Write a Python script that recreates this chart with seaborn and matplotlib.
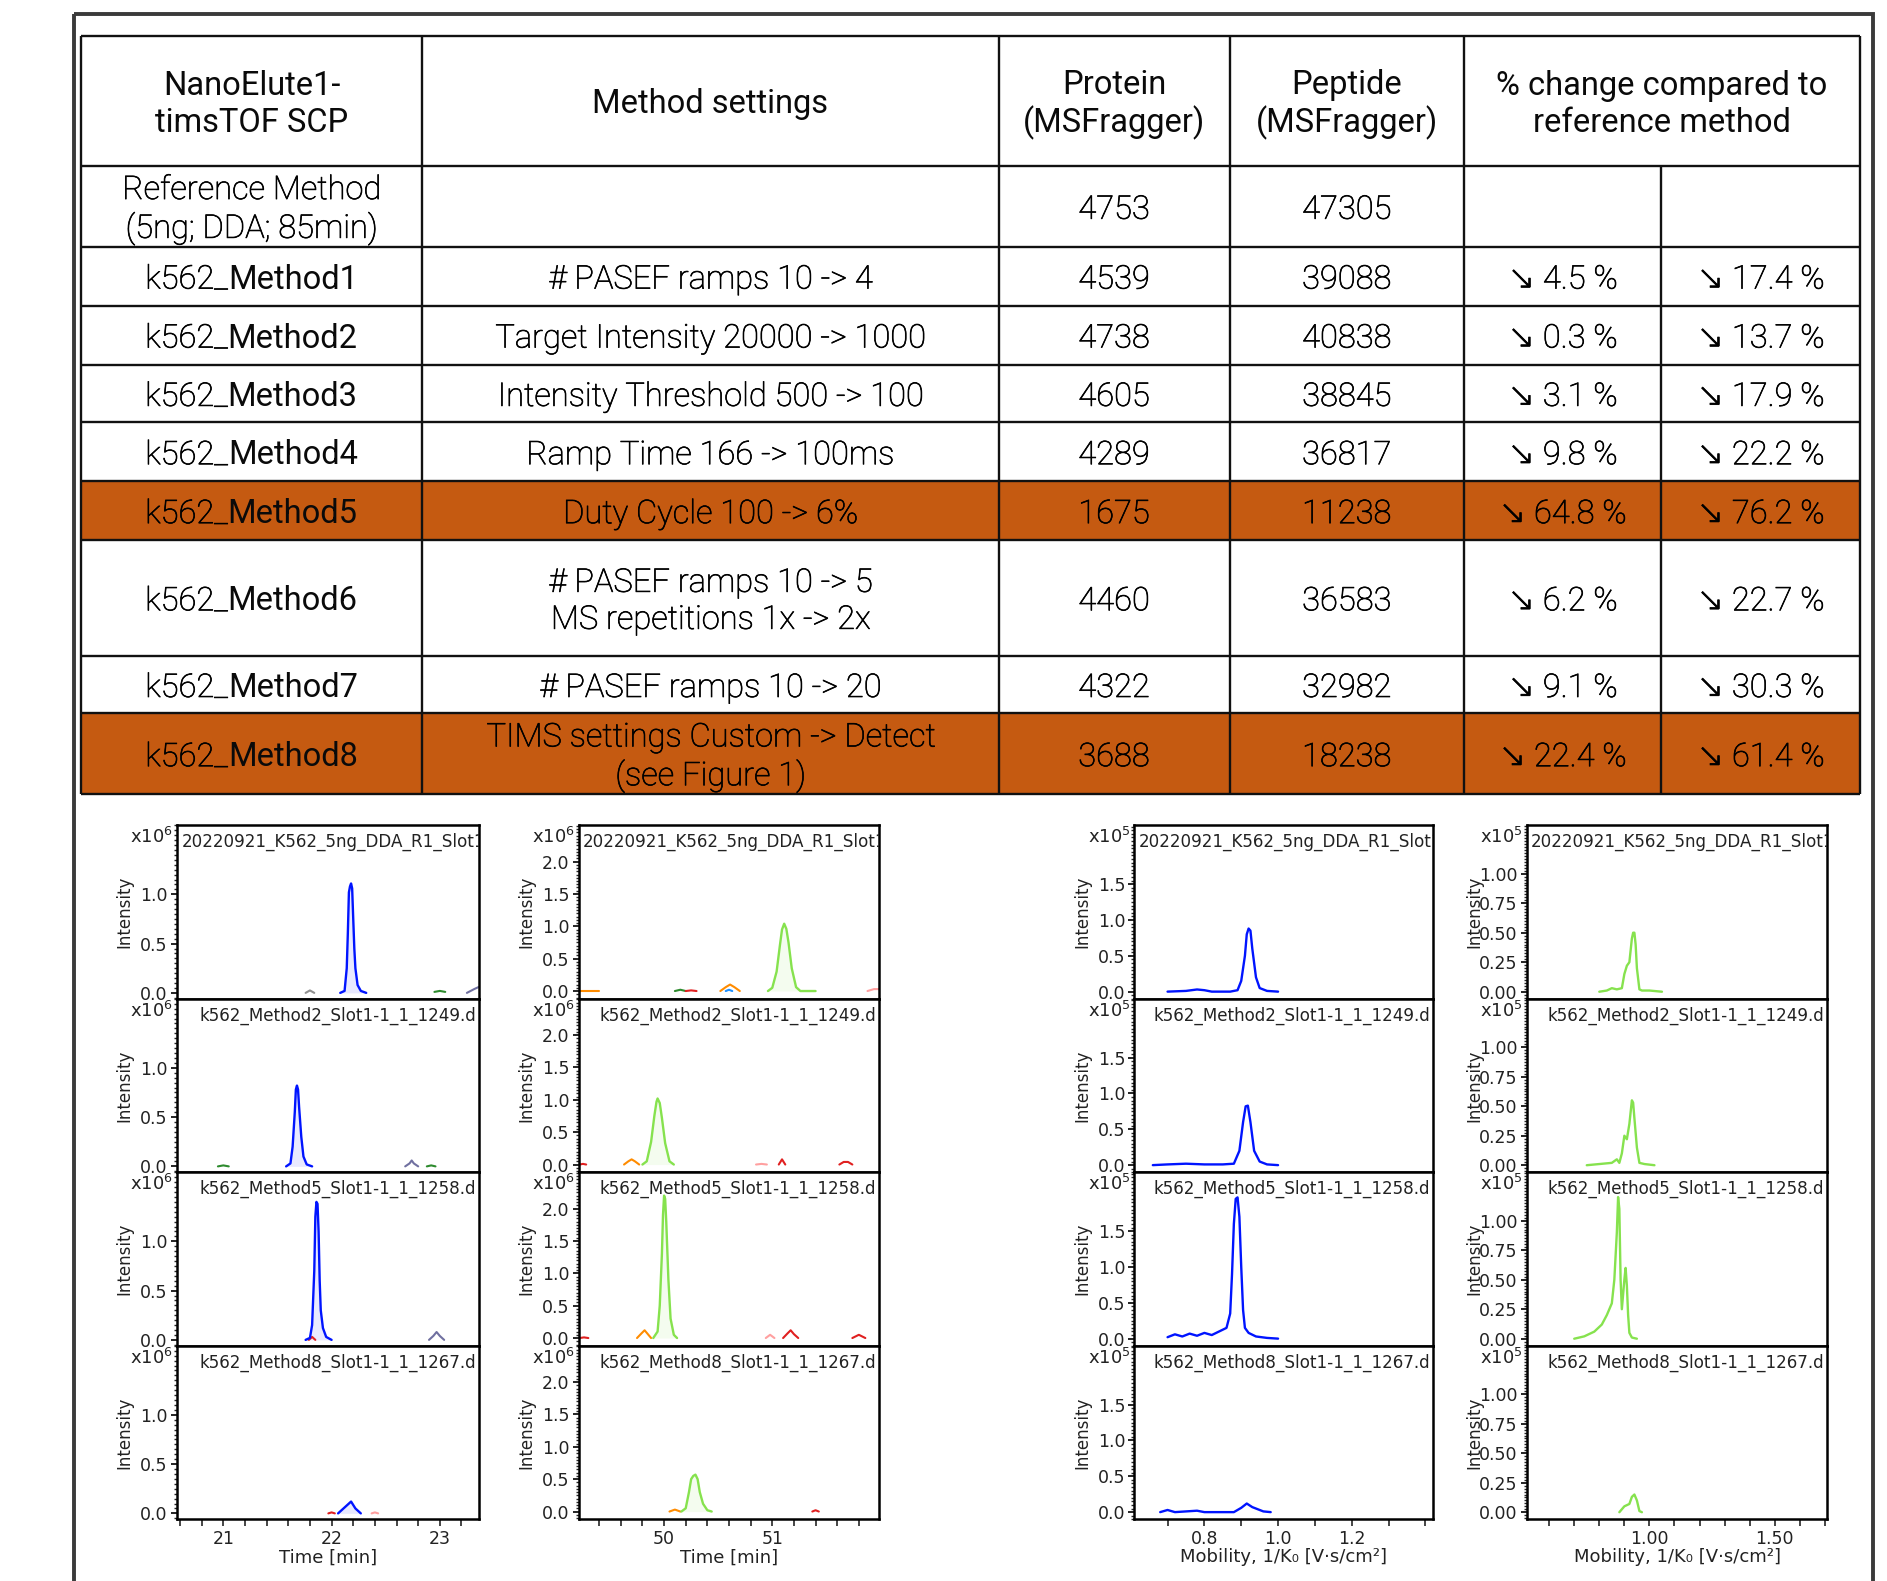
import matplotlib
matplotlib.use("Agg")
import matplotlib.pyplot as plt
import matplotlib.patheffects as pe
from matplotlib.patches import Rectangle
from matplotlib.ticker import FixedLocator, MultipleLocator, FormatStrFormatter
import seaborn as sns

# --- Table data ---
HEADERS = ["NanoElute1-\ntimsTOF SCP", "Method settings", "Protein\n(MSFragger)",
           "Peptide\n(MSFragger)", "% change compared to\nreference method"]
METHOD_NAMES = ["Reference Method\n(5ng; DDA; 85min)", "k562_Method1", "k562_Method2",
                "k562_Method3", "k562_Method4", "k562_Method5", "k562_Method6",
                "k562_Method7", "k562_Method8"]
METHOD_SETTINGS = ["", "# PASEF ramps 10 -> 4", "Target Intensity 20000 -> 1000",
                   "Intensity Threshold 500 -> 100", "Ramp Time 166 -> 100ms",
                   "Duty Cycle 100 -> 6%", "# PASEF ramps 10 -> 5\nMS repetitions 1x -> 2x",
                   "# PASEF ramps 10 -> 20", "TIMS settings Custom -> Detect\n(see Figure 1)"]
PROTEINS = [4753, 4539, 4738, 4605, 4289, 1675, 4460, 4322, 3688]
PEPTIDES = [47305, 39088, 40838, 38845, 36817, 11238, 36583, 32982, 18238]
PROTEIN_DROP = [None, 4.5, 0.3, 3.1, 9.8, 64.8, 6.2, 9.1, 22.4]
PEPTIDE_DROP = [None, 17.4, 13.7, 17.9, 22.2, 76.2, 22.7, 30.3, 61.4]
HIGHLIGHT = ["k562_Method5", "k562_Method8"]

# --- Chromatogram / mobilogram data ---
RUN_LABELS = ["20220921_K562_5ng_DDA_R1_Slot1", "k562_Method2_Slot1-1_1_1249.d",
              "k562_Method5_Slot1-1_1_1258.d", "k562_Method8_Slot1-1_1_1267.d"]

# retention time, blue feature (x10^6)
RT_BLUE_X = [
    [22.08, 22.12, 22.14, 22.15, 22.16, 22.17, 22.18, 22.19, 22.20, 22.21, 22.22, 22.24, 22.27, 22.32],
    [21.58, 21.62, 21.64, 21.66, 21.67, 21.68, 21.69, 21.70, 21.72, 21.74, 21.77, 21.82],
    [21.76, 21.80, 21.82, 21.84, 21.85, 21.86, 21.87, 21.88, 21.89, 21.90, 21.92, 21.95, 22.00],
    [22.06, 22.12, 22.18, 22.22, 22.27],
]
RT_BLUE_Y = [
    [0.0, 0.02, 0.25, 0.60, 1.02, 1.08, 1.11, 1.06, 0.75, 0.45, 0.25, 0.08, 0.02, 0.0],
    [0.0, 0.03, 0.20, 0.55, 0.78, 0.82, 0.78, 0.60, 0.30, 0.10, 0.02, 0.0],
    [0.0, 0.02, 0.15, 0.70, 1.25, 1.40, 1.38, 1.10, 0.60, 0.30, 0.12, 0.03, 0.0],
    [0.0, 0.06, 0.12, 0.05, 0.0],
]
# retention time, green feature (x10^6)
RT_GREEN_X = [
    [50.96, 51.00, 51.04, 51.07, 51.09, 51.11, 51.13, 51.15, 51.18, 51.22, 51.26, 51.40],
    [49.80, 49.84, 49.88, 49.91, 49.93, 49.94, 49.96, 49.98, 50.01, 50.05, 50.09],
    [49.90, 49.94, 49.96, 49.98, 49.99, 50.00, 50.01, 50.02, 50.04, 50.06, 50.09, 50.12],
    [50.16, 50.20, 50.23, 50.25, 50.27, 50.29, 50.31, 50.33, 50.36, 50.40, 50.44],
]
RT_GREEN_Y = [
    [0.0, 0.05, 0.30, 0.70, 0.95, 1.04, 0.96, 0.75, 0.35, 0.06, 0.0, 0.0],
    [0.0, 0.05, 0.35, 0.75, 0.97, 1.02, 0.95, 0.72, 0.33, 0.05, 0.0],
    [0.0, 0.10, 0.50, 1.30, 1.90, 2.20, 2.15, 1.80, 0.90, 0.30, 0.05, 0.0],
    [0.0, 0.05, 0.30, 0.50, 0.55, 0.57, 0.50, 0.30, 0.12, 0.02, 0.0],
]
# mobility, blue feature (x10^5)
MOB_BLUE_X = [
    [0.70, 0.75, 0.78, 0.80, 0.82, 0.87, 0.89, 0.90, 0.91, 0.915, 0.92, 0.925, 0.93, 0.94, 0.95, 0.97, 1.00],
    [0.66, 0.70, 0.75, 0.80, 0.85, 0.88, 0.895, 0.905, 0.912, 0.918, 0.925, 0.935, 0.95, 0.97, 1.00],
    [0.70, 0.72, 0.74, 0.76, 0.78, 0.80, 0.82, 0.84, 0.86, 0.87, 0.875, 0.88, 0.885, 0.89, 0.895,
     0.90, 0.905, 0.91, 0.92, 0.94, 0.97, 1.00],
    [0.68, 0.70, 0.72, 0.75, 0.78, 0.80, 0.88, 0.90, 0.915, 0.93, 0.96, 0.98],
]
MOB_BLUE_Y = [
    [0.0, 0.01, 0.03, 0.02, 0.0, 0.0, 0.02, 0.15, 0.50, 0.80, 0.88, 0.85, 0.60, 0.20, 0.05, 0.01, 0.0],
    [0.0, 0.01, 0.02, 0.01, 0.01, 0.02, 0.20, 0.60, 0.82, 0.83, 0.60, 0.20, 0.05, 0.01, 0.0],
    [0.02, 0.06, 0.03, 0.07, 0.04, 0.08, 0.05, 0.10, 0.15, 0.35, 0.90, 1.60, 1.95, 1.97, 1.70,
     1.00, 0.40, 0.15, 0.08, 0.03, 0.01, 0.0],
    [0.0, 0.03, 0.0, 0.01, 0.02, 0.0, 0.0, 0.06, 0.12, 0.07, 0.01, 0.0],
]
# mobility, green feature (x10^5)
MOB_GREEN_X = [
    [0.80, 0.83, 0.85, 0.87, 0.89, 0.90, 0.91, 0.92, 0.93, 0.935, 0.94, 0.945, 0.95, 0.96, 0.97, 1.00, 1.05],
    [0.75, 0.80, 0.85, 0.87, 0.88, 0.89, 0.90, 0.91, 0.92, 0.93, 0.935, 0.94, 0.95, 0.96, 0.98, 1.02],
    [0.70, 0.74, 0.78, 0.81, 0.83, 0.85, 0.86, 0.87, 0.875, 0.88, 0.885, 0.89, 0.90, 0.905, 0.91,
     0.915, 0.92, 0.93, 0.95],
    [0.88, 0.90, 0.92, 0.93, 0.94, 0.95, 0.96, 0.97],
]
MOB_GREEN_Y = [
    [0.0, 0.01, 0.03, 0.02, 0.03, 0.15, 0.22, 0.25, 0.45, 0.50, 0.50, 0.40, 0.20, 0.02, 0.01, 0.01, 0.0],
    [0.0, 0.01, 0.02, 0.05, 0.02, 0.10, 0.25, 0.22, 0.35, 0.55, 0.53, 0.40, 0.15, 0.02, 0.01, 0.0],
    [0.0, 0.02, 0.06, 0.12, 0.20, 0.30, 0.50, 0.90, 1.20, 1.10, 0.50, 0.25, 0.50, 0.60, 0.45,
     0.20, 0.05, 0.01, 0.0],
    [0.0, 0.05, 0.07, 0.13, 0.15, 0.10, 0.01, 0.0],
]
# small co-eluting traces: (panel column, panel row, colour, x, y)
MINOR_TRACES = [
    (0, 0, "#909090", [21.76, 21.80, 21.84], [0.0, 0.025, 0.0]),
    (0, 0, "#2E8B2E", [22.95, 23.00, 23.05], [0.01, 0.02, 0.01]),
    (0, 0, "#7070A0", [23.25, 23.32, 23.36], [0.0, 0.04, 0.06]),
    (0, 1, "#2E8B2E", [20.95, 21.00, 21.05], [0.0, 0.01, 0.0]),
    (0, 1, "#7070A0", [22.68, 22.72, 22.74, 22.76, 22.80], [0.0, 0.03, 0.06, 0.03, 0.0]),
    (0, 1, "#2E8B2E", [22.88, 22.92, 22.96], [0.0, 0.01, 0.0]),
    (0, 2, "#E02020", [21.79, 21.82, 21.85], [0.0, 0.03, 0.0]),
    (0, 2, "#7070A0", [22.90, 22.94, 22.97, 23.00, 23.04], [0.0, 0.04, 0.08, 0.04, 0.0]),
    (0, 3, "#E02020", [21.97, 22.00, 22.03], [0.0, 0.01, 0.0]),
    (0, 3, "#FFA0A0", [22.37, 22.40, 22.43], [0.0, 0.01, 0.0]),
    (1, 0, "#FF8C00", [49.21, 49.30, 49.40], [0.0, 0.0, 0.0]),
    (1, 0, "#2E8B2E", [50.10, 50.15, 50.20], [0.0, 0.02, 0.0]),
    (1, 0, "#E02020", [50.20, 50.25, 50.30], [0.0, 0.01, 0.0]),
    (1, 0, "#FF8C00", [50.52, 50.57, 50.61, 50.65, 50.70], [0.0, 0.06, 0.10, 0.06, 0.0]),
    (1, 0, "#1E90FF", [50.57, 50.60, 50.63], [0.0, 0.02, 0.0]),
    (1, 0, "#FFA0A0", [51.88, 51.94, 51.99], [0.0, 0.03, 0.03]),
    (1, 1, "#E02020", [49.22, 49.25, 49.28], [0.0, 0.01, 0.0]),
    (1, 1, "#FF8C00", [49.63, 49.67, 49.70, 49.73, 49.77], [0.0, 0.05, 0.08, 0.05, 0.0]),
    (1, 1, "#FFA0A0", [50.85, 50.90, 50.95], [0.0, 0.01, 0.0]),
    (1, 1, "#E02020", [51.06, 51.09, 51.12], [0.0, 0.08, 0.0]),
    (1, 1, "#E02020", [51.62, 51.66, 51.70, 51.74], [0.0, 0.04, 0.04, 0.0]),
    (1, 2, "#E02020", [49.22, 49.26, 49.30], [0.0, 0.01, 0.0]),
    (1, 2, "#FF8C00", [49.75, 49.79, 49.82, 49.85, 49.88], [0.0, 0.07, 0.12, 0.06, 0.0]),
    (1, 2, "#FFA0A0", [50.94, 50.98, 51.02], [0.0, 0.05, 0.0]),
    (1, 2, "#E02020", [51.10, 51.14, 51.17, 51.20, 51.24], [0.0, 0.07, 0.12, 0.06, 0.0]),
    (1, 2, "#E02020", [51.74, 51.80, 51.86], [0.0, 0.05, 0.0]),
    (1, 3, "#FF8C00", [50.05, 50.10, 50.15], [0.0, 0.03, 0.0]),
    (1, 3, "#E02020", [51.37, 51.40, 51.43], [0.0, 0.02, 0.0]),
]

# --- Layout (pixels of the 1887x1581 canvas) ---
W, H = 1887, 1581
COL_EDGES = [80.6, 422.3, 998.5, 1229.5, 1464.0, 1661.3, 1860.0]
ROW_EDGES = [36.0, 166.0, 246.6, 305.6, 364.5, 422.3, 481.2, 540.1, 655.6, 713.4, 794.0]
ROW_TOPS = [825.3, 998.8, 1172.3, 1345.8]
ROW_H = 173.5
TEXT_SHIFT = 3.5   # optical centring of table text

BLUE = "#0014FF"
GREEN = "#86E24E"
ORANGE = "#C55A11"
TXT = "#000000"
HDR = "#0a0a0a"
TFONT = ["Roboto", "DejaVu Sans"]
TSIZE = 23.5
PSIZE = 12.5
TITLE_SIZE = 12.1
# thickens the light weight a little, as in the reference
LIGHT_FX = [pe.withStroke(linewidth=0.5, foreground=TXT)]

PANEL_COLS = [
    dict(left=176.8, right=478.8, xs=RT_BLUE_X, ys=RT_BLUE_Y, color=BLUE, fill=True, exp=6,
         xlim=(20.57, 23.36), ylim=(-0.06, 1.70), yticks=[0, 0.5, 1.0], yminor=0.05, yfmt="%.1f",
         xticks=[21, 22, 23], xminor=0.2, xfmt="%d", xlabel="Time [min]"),
    dict(left=578.6, right=879.4, xs=RT_GREEN_X, ys=RT_GREEN_Y, color=GREEN, fill=True, exp=6,
         xlim=(49.21, 51.99), ylim=(-0.12, 2.56), yticks=[0, 0.5, 1.0, 1.5, 2.0], yminor=0.05,
         yfmt="%.1f", xticks=[50, 51], xminor=0.2, xfmt="%d", xlabel="Time [min]"),
    dict(left=1134.4, right=1432.8, xs=MOB_BLUE_X, ys=MOB_BLUE_Y, color=BLUE, fill=False, exp=5,
         xlim=(0.61, 1.42), ylim=(-0.10, 2.32), yticks=[0, 0.5, 1.0, 1.5], yminor=0.05, yfmt="%.1f",
         xticks=[0.8, 1.0, 1.2], xminor=0.1, xfmt="%.1f", xlabel="Mobility, 1/K\u2080 [V\u00b7s/cm\u00b2]"),
    dict(left=1526.6, right=1827.4, xs=MOB_GREEN_X, ys=MOB_GREEN_Y, color=GREEN, fill=False, exp=5,
         xlim=(0.51, 1.71), ylim=(-0.06, 1.41), yticks=[0, 0.25, 0.5, 0.75, 1.0], yminor=0.025,
         yfmt="%.2f", xticks=[1.0, 1.5], xminor=0.1, xfmt="%.2f",
         xlabel="Mobility, 1/K\u2080 [V\u00b7s/cm\u00b2]"),
]


def px_rect(x0, y0, x1, y1):
    return [x0 / W, 1 - y1 / H, (x1 - x0) / W, (y1 - y0) / H]


sns.set_style("ticks")
plt.rcParams["font.family"] = ["DejaVu Sans"]
plt.rcParams["mathtext.fontset"] = "dejavusans"
plt.rcParams["axes.linewidth"] = 1.8
plt.rcParams["axes.edgecolor"] = "black"

fig = plt.figure(figsize=(W / 100, H / 100), dpi=100)
fig.patch.set_facecolor("white")

# --- Table ---
tab = fig.add_axes([0, 0, 1, 1], zorder=0)
tab.set_xlim(0, W)
tab.set_ylim(H, 0)
tab.axis("off")

# outer frame of the figure
tab.add_patch(Rectangle((73.5, 14.0), 1873.0 - 73.5, 1700, fill=False, edgecolor="#3a3a3a",
                        lw=2.8, clip_on=False))

for i, name in enumerate(METHOD_NAMES):
    if name in HIGHLIGHT:
        y0, y1 = ROW_EDGES[i + 1], ROW_EDGES[i + 2]
        tab.add_patch(Rectangle((COL_EDGES[0], y0), COL_EDGES[-1] - COL_EDGES[0], y1 - y0,
                                facecolor=ORANGE, edgecolor="none"))

tab.hlines(ROW_EDGES, COL_EDGES[0], COL_EDGES[-1], colors="#111111", lw=1.7)
for j, x in enumerate(COL_EDGES):
    top = ROW_EDGES[1] if j == 5 else ROW_EDGES[0]
    tab.vlines(x, top, ROW_EDGES[-1], colors="#111111", lw=1.7)

col_centers = [(COL_EDGES[k] + COL_EDGES[k + 1]) / 2 for k in range(6)]
head_x = col_centers[:4] + [(COL_EDGES[4] + COL_EDGES[6]) / 2]
head_y = (ROW_EDGES[0] + ROW_EDGES[1]) / 2 + TEXT_SHIFT
for x, label in zip(head_x, HEADERS):
    tab.text(x, head_y, label, ha="center", va="center", fontsize=TSIZE, color=HDR,
             family=TFONT, linespacing=1.2)

renderer = fig.canvas.get_renderer()
for i in range(len(METHOD_NAMES)):
    yc = (ROW_EDGES[i + 1] + ROW_EDGES[i + 2]) / 2 + TEXT_SHIFT
    name = METHOD_NAMES[i]
    if name.startswith("k562_"):
        t1 = tab.text(0, yc, "k562_", ha="left", va="center", fontsize=TSIZE, color=TXT,
                      family=TFONT, weight="light", path_effects=LIGHT_FX)
        t2 = tab.text(0, yc, name[5:], ha="left", va="center", fontsize=TSIZE, color=HDR,
                      family=TFONT, weight="normal")
        w1 = t1.get_window_extent(renderer).width
        w2 = t2.get_window_extent(renderer).width
        x0 = col_centers[0] - (w1 + w2) / 2
        t1.set_x(x0)
        t2.set_x(x0 + w1)
    else:
        tab.text(col_centers[0], yc, name, ha="center", va="center", fontsize=TSIZE, color=TXT,
                 family=TFONT, weight="light", linespacing=1.2, path_effects=LIGHT_FX)
    cells = [METHOD_SETTINGS[i], str(PROTEINS[i]), str(PEPTIDES[i]),
             "" if PROTEIN_DROP[i] is None else "\u2198 %.1f %%" % PROTEIN_DROP[i],
             "" if PEPTIDE_DROP[i] is None else "\u2198 %.1f %%" % PEPTIDE_DROP[i]]
    for x, s in zip(col_centers[1:], cells):
        tab.text(x, yc, s, ha="center", va="center", fontsize=TSIZE, color=TXT, family=TFONT,
                 weight="light", linespacing=1.2, path_effects=LIGHT_FX)

# --- Chromatogram panels ---
for c, spec in enumerate(PANEL_COLS):
    for r in range(4):
        ax = fig.add_axes(px_rect(spec["left"], ROW_TOPS[r], spec["right"], ROW_TOPS[r] + ROW_H))
        for cc, rr, color, mx, my in MINOR_TRACES:
            if cc == c and rr == r:
                sns.lineplot(x=mx, y=my, ax=ax, color=color, lw=1.5, estimator=None, sort=False)
        xs, ys = spec["xs"][r], spec["ys"][r]
        if spec["fill"]:
            ax.fill_between(xs, ys, 0, color=spec["color"], alpha=0.09, lw=0)
        sns.lineplot(x=xs, y=ys, ax=ax, color=spec["color"], lw=1.7, estimator=None, sort=False)

        ax.set_xlim(*spec["xlim"])
        ax.set_ylim(*spec["ylim"])
        for side in ["left", "right", "top", "bottom"]:
            ax.spines[side].set_visible(True)
            ax.spines[side].set_linewidth(1.8)
            ax.spines[side].set_color("black")

        ax.yaxis.set_major_locator(FixedLocator(spec["yticks"]))
        ax.yaxis.set_minor_locator(MultipleLocator(spec["yminor"]))
        ax.yaxis.set_major_formatter(FormatStrFormatter(spec["yfmt"]))
        ax.tick_params(axis="y", which="major", direction="out", length=4.5, width=1.2,
                       pad=2, labelsize=PSIZE, colors="black", labelcolor="#222222")
        ax.tick_params(axis="y", which="minor", direction="out", length=2.5, width=1.0)

        if r == 3:
            ax.xaxis.set_major_locator(FixedLocator(spec["xticks"]))
            ax.xaxis.set_minor_locator(MultipleLocator(spec["xminor"]))
            ax.xaxis.set_major_formatter(FormatStrFormatter(spec["xfmt"]))
            ax.tick_params(axis="x", which="both", direction="out", length=5, width=1.2,
                           pad=3, labelsize=PSIZE, labelcolor="#222222")
            ax.set_xlabel(spec["xlabel"], fontsize=13, labelpad=0, color="#222222")
        else:
            ax.tick_params(axis="x", which="both", bottom=False, labelbottom=False)
            ax.set_xlabel("")

        ax.set_ylabel("Intensity", fontsize=12, color="#222222")
        ax.yaxis.set_label_coords(-0.145, 0.5)
        ax.text(-0.012, 0.99, "x10$^{%d}$" % spec["exp"], transform=ax.transAxes,
                ha="right", va="top", fontsize=13, color="#222222")
        if r == 0:
            ax.text(0.015, 0.955, RUN_LABELS[r], transform=ax.transAxes, ha="left", va="top",
                    fontsize=TITLE_SIZE, color="#222222", clip_on=True)
        else:
            ax.text(0.99, 0.955, RUN_LABELS[r], transform=ax.transAxes, ha="right", va="top",
                    fontsize=TITLE_SIZE, color="#222222", clip_on=True)

fig.savefig("out.png", dpi=100, facecolor="white")
